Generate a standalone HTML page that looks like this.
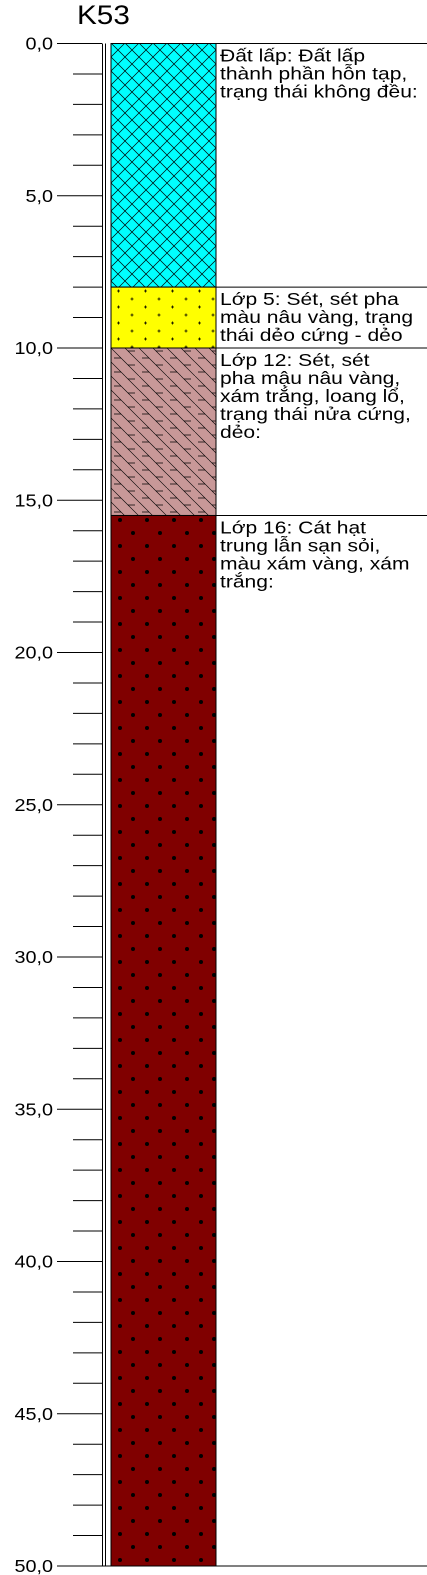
<!DOCTYPE html>
<html><head><meta charset="utf-8"><style>
html,body{margin:0;padding:0;background:#fff;width:427px;height:1575px;overflow:hidden}
svg{display:block}
text{font-family:"Liberation Sans",Arial,sans-serif}
</style></head><body>
<svg id="c" width="427" height="1575">
<defs>
<pattern id="pCross" width="14" height="14" patternUnits="userSpaceOnUse" x="111" y="43">
<rect width="14" height="14" fill="#00ffff"/><path d="M0,0L14,14M14,0L0,14" stroke="#000" stroke-width="0.7"/></pattern>
<pattern id="pPlus" width="27" height="16" patternUnits="userSpaceOnUse" x="111" y="287">
<rect width="27" height="16" fill="#ffff00"/>
<path d="M6,4h3M7.5,2.5v3M19.5,12h3M21,10.5v3" stroke="#000" stroke-width="0.8"/></pattern>
<pattern id="pClay" width="28" height="28" patternUnits="userSpaceOnUse" x="111" y="348">
<rect width="28" height="28" fill="#c89898"/>
<path d="M0,0L14,14M14,14L28,28M14,0L28,14M0,14L14,28" stroke="#000" stroke-width="0.6"/>
<path d="M3,10h7M17,3h7M3,24h7M17,17h7" stroke="#000" stroke-width="0.8"/></pattern>
<pattern id="pSand" width="27" height="26" patternUnits="userSpaceOnUse" x="111" y="515">
<rect width="27" height="26" fill="#800000"/>
<circle cx="9" cy="5" r="2" fill="#000"/><circle cx="22" cy="18" r="2" fill="#000"/></pattern>
</defs>
</svg>
<script>
const depthTicks=[0,5,10,15,20,25,30,35,40,45,50];
const tickLabels=["0,0","5,0","10,0","15,0","20,0","25,0","30,0","35,0","40,0","45,0","50,0"];
const layerTops=[0,8,10,15.5];
const layerBottoms=[8,10,15.5,50];
const layerFills=["url(#pCross)","url(#pPlus)","url(#pClay)","url(#pSand)"];
const layerText=[
["Đất lấp: Đất lấp","thành phần hỗn tạp,","trạng thái không đều:"],
["Lớp 5: Sét, sét pha","màu nâu vàng, trạng","thái dẻo cứng - dẻo"],
["Lớp 12: Sét, sét","pha mậu nâu vàng,","xám trắng, loang lổ,","trạng thái nửa cứng,","dẻo:"],
["Lớp 16: Cát hạt","trung lẫn sạn sỏi,","màu xám vàng, xám","trắng:"]];
const NS="http://www.w3.org/2000/svg";
const svg=document.getElementById('c');
const y=d=>43.5+d*30.45;
function mk(t,a,p){const e=document.createElementNS(NS,t);for(const k in a)e.setAttribute(k,a[k]);(p||svg).appendChild(e);return e;}
const title=mk('text',{x:0,y:0,'font-size':27,transform:'translate(77,24) scale(1.1,1)'});title.textContent="K53";


for(let d=0;d<=50;d++){
 const major=d%5===0;
 const t=mk('line',{x1:major?57:73,x2:102,y1:y(d),y2:y(d),stroke:'#000','stroke-width':1});
 
 
}
depthTicks.forEach((d,i)=>{
 const t=mk('text',{x:0,y:0,'font-size':18,'text-anchor':'end',transform:`translate(53,${y(d)+6}) scale(1.1,1)`});t.textContent=tickLabels[i];
 
 
});
[102,105].forEach(x=>{const l=mk('line',{x1:x+0.5,x2:x+0.5,y1:y(0),y2:y(50),stroke:'#000','stroke-width':1});
 
 });
const bot=mk('line',{x1:57,x2:427,y1:y(50),y2:y(50),stroke:'#000'});


layerTops.forEach((top,i)=>{
 const y0=y(top),y1=y(layerBottoms[i]);
 const r=mk('rect',{x:111,y:y0,width:105,height:y1-y0,fill:layerFills[i],stroke:'#000','stroke-width':1});
 
 
 const ln=mk('line',{x1:216,x2:427,y1:y0,y2:y0,stroke:'#000'});
 
 
 const cp=mk('clipPath',{id:'cl'+i});mk('rect',{x:216,y:y0,width:211,height:y1-y0},cp);
 const g=mk('g',{'clip-path':'url(#cl'+i+')'});
 
 
 const g2=mk('g',{transform:'translate(220,0) scale(1.17,1)'},g);
 layerText[i].forEach((s,j)=>{const t=mk('text',{x:0,y:y0+18+j*18,'font-size':18},g2);t.textContent=s;});
});
</script>
</body></html>
